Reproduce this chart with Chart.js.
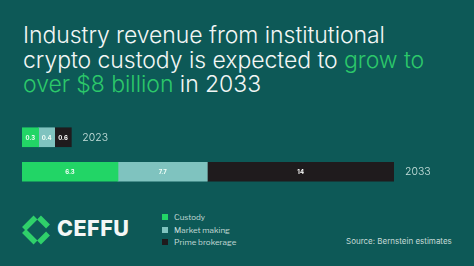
<!DOCTYPE html>
<html>
<head>
<meta charset="utf-8">
<script src="https://cdn.jsdelivr.net/npm/chart.js@4/dist/chart.umd.min.js"></script>
<style>
  html, body { margin: 0; padding: 0; }
  body { width: 474px; height: 266px; background: #0d5957; position: relative; overflow: hidden; font-family: Inter, "Noto Sans", sans-serif; }
  #title { position: absolute; left: 23px; top: 23px; color: #f2f6f5; font-size: 23px; font-weight: 300; line-height: 24.5px; letter-spacing: -0.05px; margin: 0; }
  #title .g { color: #2cc86a; }
  #chartWrap { position: absolute; left: 0; top: 120px; width: 474px; height: 69px; }
  #legend { position: absolute; left: 162px; top: 211px; font-size: 8px; color: #c4d9d6; font-family: "Libre Franklin", Inter, sans-serif; }
  #legend div { height: 12.5px; line-height: 12.5px; display: flex; align-items: center; }
  #legend span.sw { display: inline-block; width: 6px; height: 6px; margin-right: 6px; }
  #source { position: absolute; left: 346px; top: 236px; font-size: 8px; color: #c4d9d6; }
  #logo { position: absolute; left: 21px; top: 214px; }
  #brand { position: absolute; left: 57px; top: 215px; font-size: 21.5px; font-weight: 800; color: #f4f7f6; letter-spacing: 0.5px; font-family: Inter, sans-serif; }
</style>
</head>
<body>
<p id="title">Industry revenue from institutional<br>crypto custody is expected to <span class="g">grow to<br>over $8 billion</span> in 2033</p>
<div id="chartWrap"><canvas id="c" width="474" height="69"></canvas></div>
<svg id="logo" width="32" height="32" viewBox="0 0 32 32">
  <g stroke="#2fd06a" stroke-width="5.5" stroke-linecap="butt" fill="none">
    <line x1="3" y1="15" x2="14.5" y2="3.5"/>
    <line x1="3" y1="17" x2="14.5" y2="28.5"/>
    <line x1="18" y1="3.5" x2="27" y2="12.5"/>
    <line x1="18" y1="28.5" x2="27" y2="19.5"/>
  </g>
</svg>
<div id="brand">CEFFU</div>
<div id="legend"></div>
<div id="source">Source: Bernstein estimates</div>
<script>
// Categories (years)
const years = ['2023', '2033'];
// Segment lengths as drawn in the picture (the infographic is not drawn to scale)
const custody = [1.25, 7.2];
const marketMaking = [1.2, 6.7];
const primeBrokerage = [1.25, 14];
// Values printed on the segments
const custodyLabels = ['0.3', '6.3'];
const marketMakingLabels = ['0.4', '7.7'];
const primeBrokerageLabels = ['0.6', '14'];
// Series names
const seriesNames = ['Custody', 'Market making', 'Prime brokerage'];
const seriesColors = ['#22d566', '#7fc3bf', '#1f1b1d'];

const labelSets = [custodyLabels, marketMakingLabels, primeBrokerageLabels];

const segLabels = {
  id: 'segLabels',
  afterDatasetsDraw(chart) {
    const ctx = chart.ctx;
    ctx.save();
    ctx.textAlign = 'center';
    ctx.textBaseline = 'middle';
    ctx.font = 'bold 6px Inter, sans-serif';
    chart.data.datasets.forEach((ds, di) => {
      const meta = chart.getDatasetMeta(di);
      meta.data.forEach((bar, i) => {
        const cx = (bar.x + bar.base) / 2;
        ctx.fillStyle = di === 2 ? '#ffffff' : '#f2fff8';
        ctx.fillText(labelSets[di][i], cx, bar.y + 0.5);
      });
    });
    // Year labels at end of each stacked bar
    const last = chart.getDatasetMeta(chart.data.datasets.length - 1);
    ctx.textAlign = 'left';
    ctx.font = '300 10.5px Inter, sans-serif';
    ctx.fillStyle = '#c8e1dd';
    last.data.forEach((bar, i) => {
      ctx.fillText(years[i], bar.x + 11, bar.y + 0.5);
    });
    ctx.restore();
  }
};

const total2033 = custody[1] + marketMaking[1] + primeBrokerage[1];

new Chart(document.getElementById('c'), {
  type: 'bar',
  data: {
    labels: years,
    datasets: [
      { label: seriesNames[0], data: custody, backgroundColor: seriesColors[0] },
      { label: seriesNames[1], data: marketMaking, backgroundColor: seriesColors[1] },
      { label: seriesNames[2], data: primeBrokerage, backgroundColor: seriesColors[2] }
    ]
  },
  options: {
    indexAxis: 'y',
    responsive: false,
    animation: false,
    layout: { padding: { left: 22, right: 80, top: 0, bottom: 0 } },
    datasets: { bar: { barThickness: 19, borderWidth: 0 } },
    scales: {
      x: { stacked: true, display: false, min: 0, max: total2033 },
      y: { stacked: true, display: false }
    },
    plugins: { legend: { display: false }, tooltip: { enabled: false } }
  },
  plugins: [segLabels]
});

const leg = document.getElementById('legend');
seriesNames.forEach((n, i) => {
  const d = document.createElement('div');
  d.innerHTML = '<span class="sw" style="background:' + seriesColors[i] + '"></span>' + n;
  leg.appendChild(d);
});
</script>
</body>
</html>
